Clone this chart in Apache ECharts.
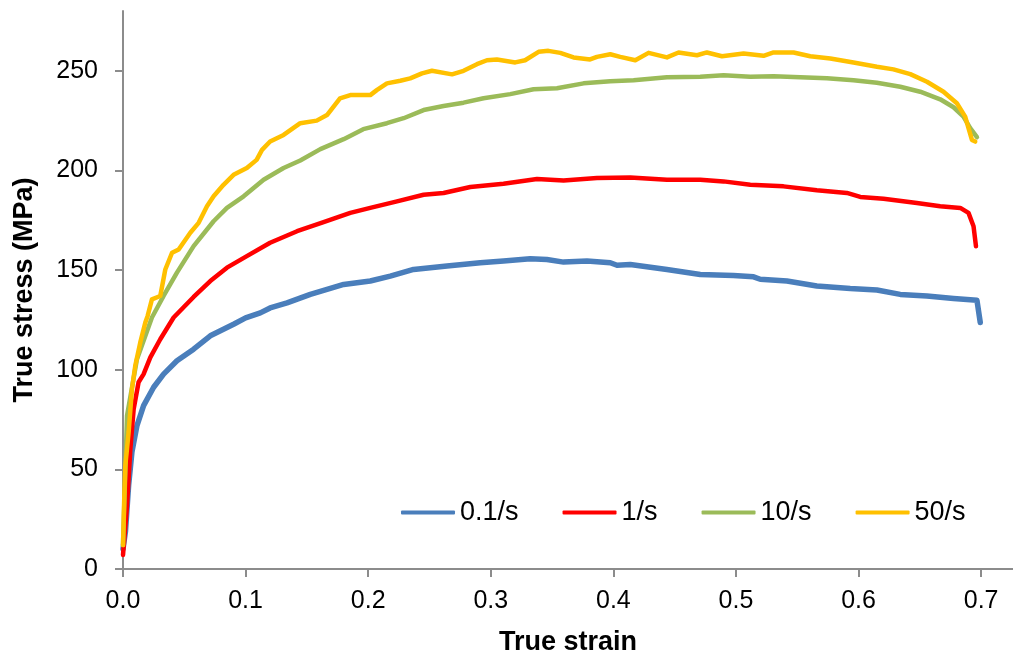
<!DOCTYPE html>
<html>
<head>
<meta charset="utf-8">
<title>True stress - true strain</title>
<script src="https://cdn.jsdelivr.net/npm/echarts@6/dist/echarts.min.js"></script>
<style>
  html, body { margin: 0; padding: 0; background: #fff; }
  #chart { width: 1013px; height: 661px; }
</style>
</head>
<body>
<div id="chart"></div>
<script>
// series names (strain rates)
const rateNames = ['0.1/s', '1/s', '10/s', '50/s']

// tick values
const strainTicks = [0, 0.1, 0.2, 0.3, 0.4, 0.5, 0.6, 0.7]
const stressTicks = [0, 50, 100, 150, 200, 250]

// [true strain, true stress (MPa)]
const rate01 = [
  [0, 10], [0.002, 18.7], [0.0046, 42], [0.0073, 58.7], [0.0114, 72], [0.0168, 82],
  [0.025, 91.2], [0.0331, 97.8], [0.044, 104.5], [0.0576, 110.3], [0.0712, 117],
  [0.0902, 122.8], [0.1, 126], [0.112, 128.5], [0.12, 131], [0.1338, 133.5],
  [0.1528, 137.8], [0.18, 142.8], [0.2017, 144.5], [0.218, 147], [0.237, 150.3],
  [0.2643, 152], [0.2914, 153.7], [0.3104, 154.5], [0.3322, 155.7], [0.3458, 155.3],
  [0.3594, 154], [0.3785, 154.5], [0.3975, 153.7], [0.403, 152.4], [0.4138, 152.8],
  [0.4437, 150.3], [0.4709, 147.8], [0.498, 147.3], [0.5144, 146.6], [0.5198, 145.4],
  [0.5416, 144.5], [0.566, 142], [0.5932, 140.7], [0.615, 140], [0.634, 137.8],
  [0.6558, 137], [0.6775, 135.7], [0.6966, 134.8], [0.6993, 123.7]
]
const rate1 = [
  [0, 7], [0.0033, 32], [0.006, 60.3], [0.0087, 80.3], [0.0127, 93.7], [0.0168, 97.8],
  [0.0223, 106.2], [0.0304, 115.3], [0.0413, 126.2], [0.0576, 136.5], [0.0712, 144.5],
  [0.0848, 151.2], [0.101, 157], [0.12, 163.7], [0.142, 169.5], [0.1636, 174],
  [0.1854, 178.7], [0.2017, 181.2], [0.2235, 184.5], [0.2452, 187.8], [0.2615, 188.7],
  [0.2833, 191.7], [0.3104, 193.3], [0.3377, 195.7], [0.3594, 195], [0.3866, 196.2],
  [0.4138, 196.5], [0.4437, 195.3], [0.4709, 195.3], [0.4899, 194.5], [0.5117, 192.8],
  [0.5388, 192], [0.566, 190], [0.5905, 188.7], [0.6014, 186.7], [0.6204, 185.8],
  [0.6476, 183.7], [0.6666, 182], [0.683, 181.2], [0.6897, 178.7], [0.6938, 172],
  [0.6958, 162]
]
const rate10 = [
  [0, 12], [0.0033, 77], [0.0114, 105.3], [0.0236, 126.2], [0.0331, 137], [0.044, 148.7],
  [0.0576, 162], [0.0739, 174.5], [0.0848, 181.2], [0.0984, 187], [0.1147, 195.3],
  [0.131, 201.2], [0.1446, 205], [0.161, 210.7], [0.18, 215.7], [0.196, 220.7],
  [0.2153, 223.7], [0.2289, 226.2], [0.2452, 230.3], [0.2615, 232.3], [0.2778, 234],
  [0.2941, 236.2], [0.3159, 238.3], [0.3349, 240.7], [0.354, 241.2], [0.3757, 243.7],
  [0.3975, 244.8], [0.4165, 245.3], [0.4437, 246.7], [0.4709, 247], [0.4899, 247.8],
  [0.5117, 247], [0.5307, 247.3], [0.5524, 246.7], [0.5742, 246.2], [0.5959, 245.3],
  [0.615, 244], [0.634, 242], [0.6503, 239.5], [0.6666, 235.7], [0.6775, 231.7],
  [0.6856, 227], [0.6911, 221.2], [0.6966, 216.7]
]
const rate50 = [
  [0, 12], [0.001, 35.3], [0.0019, 52], [0.0046, 68.7], [0.0073, 90.3], [0.01, 102],
  [0.0141, 113.7], [0.0182, 123.7], [0.0201, 127], [0.0236, 135.3], [0.0304, 137],
  [0.0345, 150.3], [0.04, 158.7], [0.0454, 160.3], [0.0549, 168.7], [0.0617, 173.7],
  [0.0685, 182], [0.0739, 187], [0.082, 192.8], [0.0902, 197.8], [0.101, 201.2],
  [0.109, 205.3], [0.1134, 210.3], [0.12, 214.5], [0.131, 217.8], [0.1446, 223.7],
  [0.158, 225], [0.1664, 227.8], [0.177, 236.2], [0.1854, 237.8], [0.2017, 237.8],
  [0.207, 240.3], [0.2153, 243.7], [0.2262, 245], [0.2343, 246.2], [0.2439, 248.7],
  [0.252, 250], [0.2684, 248.2], [0.2778, 250], [0.2887, 253.3], [0.2969, 255.3],
  [0.305, 255.7], [0.32, 254.2], [0.328, 255.3], [0.339, 259.5], [0.347, 260],
  [0.3567, 259], [0.3675, 256.7], [0.381, 255.7], [0.3866, 257], [0.3975, 258.3],
  [0.4056, 257], [0.4179, 255.3], [0.4287, 259], [0.4437, 256.7], [0.4532, 259.2],
  [0.4682, 257.8], [0.4763, 259.2], [0.4886, 257.3], [0.5062, 258.7], [0.5225, 257.5],
  [0.5307, 259.2], [0.547, 259.2], [0.5606, 257.3], [0.577, 256.2], [0.5959, 254.2],
  [0.615, 252], [0.6285, 250.7], [0.6422, 248.3], [0.6558, 244.5], [0.6693, 239.5],
  [0.6802, 233.7], [0.687, 227], [0.6897, 221.2], [0.6925, 215.3], [0.6952, 214.5]
]

const colors = ['#4a7ebb', '#ff0000', '#9bbb59', '#ffc000']
const seriesData = [rate01, rate1, rate10, rate50]
const font = "'Liberation Sans', Arial, sans-serif"
const axisGray = '#8c8c8c'

const chart = echarts.init(document.getElementById('chart'))
chart.setOption({
  animation: false,
  color: colors,
  grid: { left: 123, right: 0, top: 11, bottom: 90 },
  legend: {
    left: 396,
    top: 494,
    itemWidth: 54,
    itemHeight: 4,
    itemGap: 44,
    icon: 'roundRect',
    textStyle: { fontFamily: font, fontSize: 27, color: '#000' },
    data: rateNames
  },
  xAxis: {
    type: 'value',
    min: 0,
    max: 0.726,
    name: 'True strain',
    nameLocation: 'middle',
    nameGap: 60,
    nameTextStyle: { fontFamily: font, fontSize: 27, fontWeight: 'bold', color: '#000' },
    splitLine: { show: false },
    axisLine: { lineStyle: { color: axisGray, width: 2 } },
    axisTick: { customValues: strainTicks, length: 8, lineStyle: { color: axisGray, width: 2 } },
    axisLabel: {
      customValues: strainTicks,
      margin: 20,
      fontFamily: font, fontSize: 25, color: '#000',
      formatter: v => v.toFixed(1)
    }
  },
  yAxis: {
    type: 'value',
    min: 0,
    max: 280,
    name: 'True stress (MPa)',
    nameLocation: 'middle',
    nameRotate: 90,
    nameGap: 85,
    nameTextStyle: { fontFamily: font, fontSize: 27, fontWeight: 'bold', color: '#000' },
    splitLine: { show: false },
    axisLine: { show: true, lineStyle: { color: axisGray, width: 2 } },
    axisTick: { show: true, customValues: stressTicks, length: 8, lineStyle: { color: axisGray, width: 2 } },
    axisLabel: { customValues: stressTicks, margin: 25, fontFamily: font, fontSize: 25, color: '#000' }
  },
  series: seriesData.map((d, i) => ({
    name: rateNames[i],
    type: 'line',
    data: d,
    showSymbol: false,
    symbol: 'none',
    lineStyle: { width: i === 0 ? 5.5 : 4.5, color: colors[i], cap: 'round', join: 'round' },
    itemStyle: { color: colors[i] }
  }))
})
</script>
</body>
</html>
